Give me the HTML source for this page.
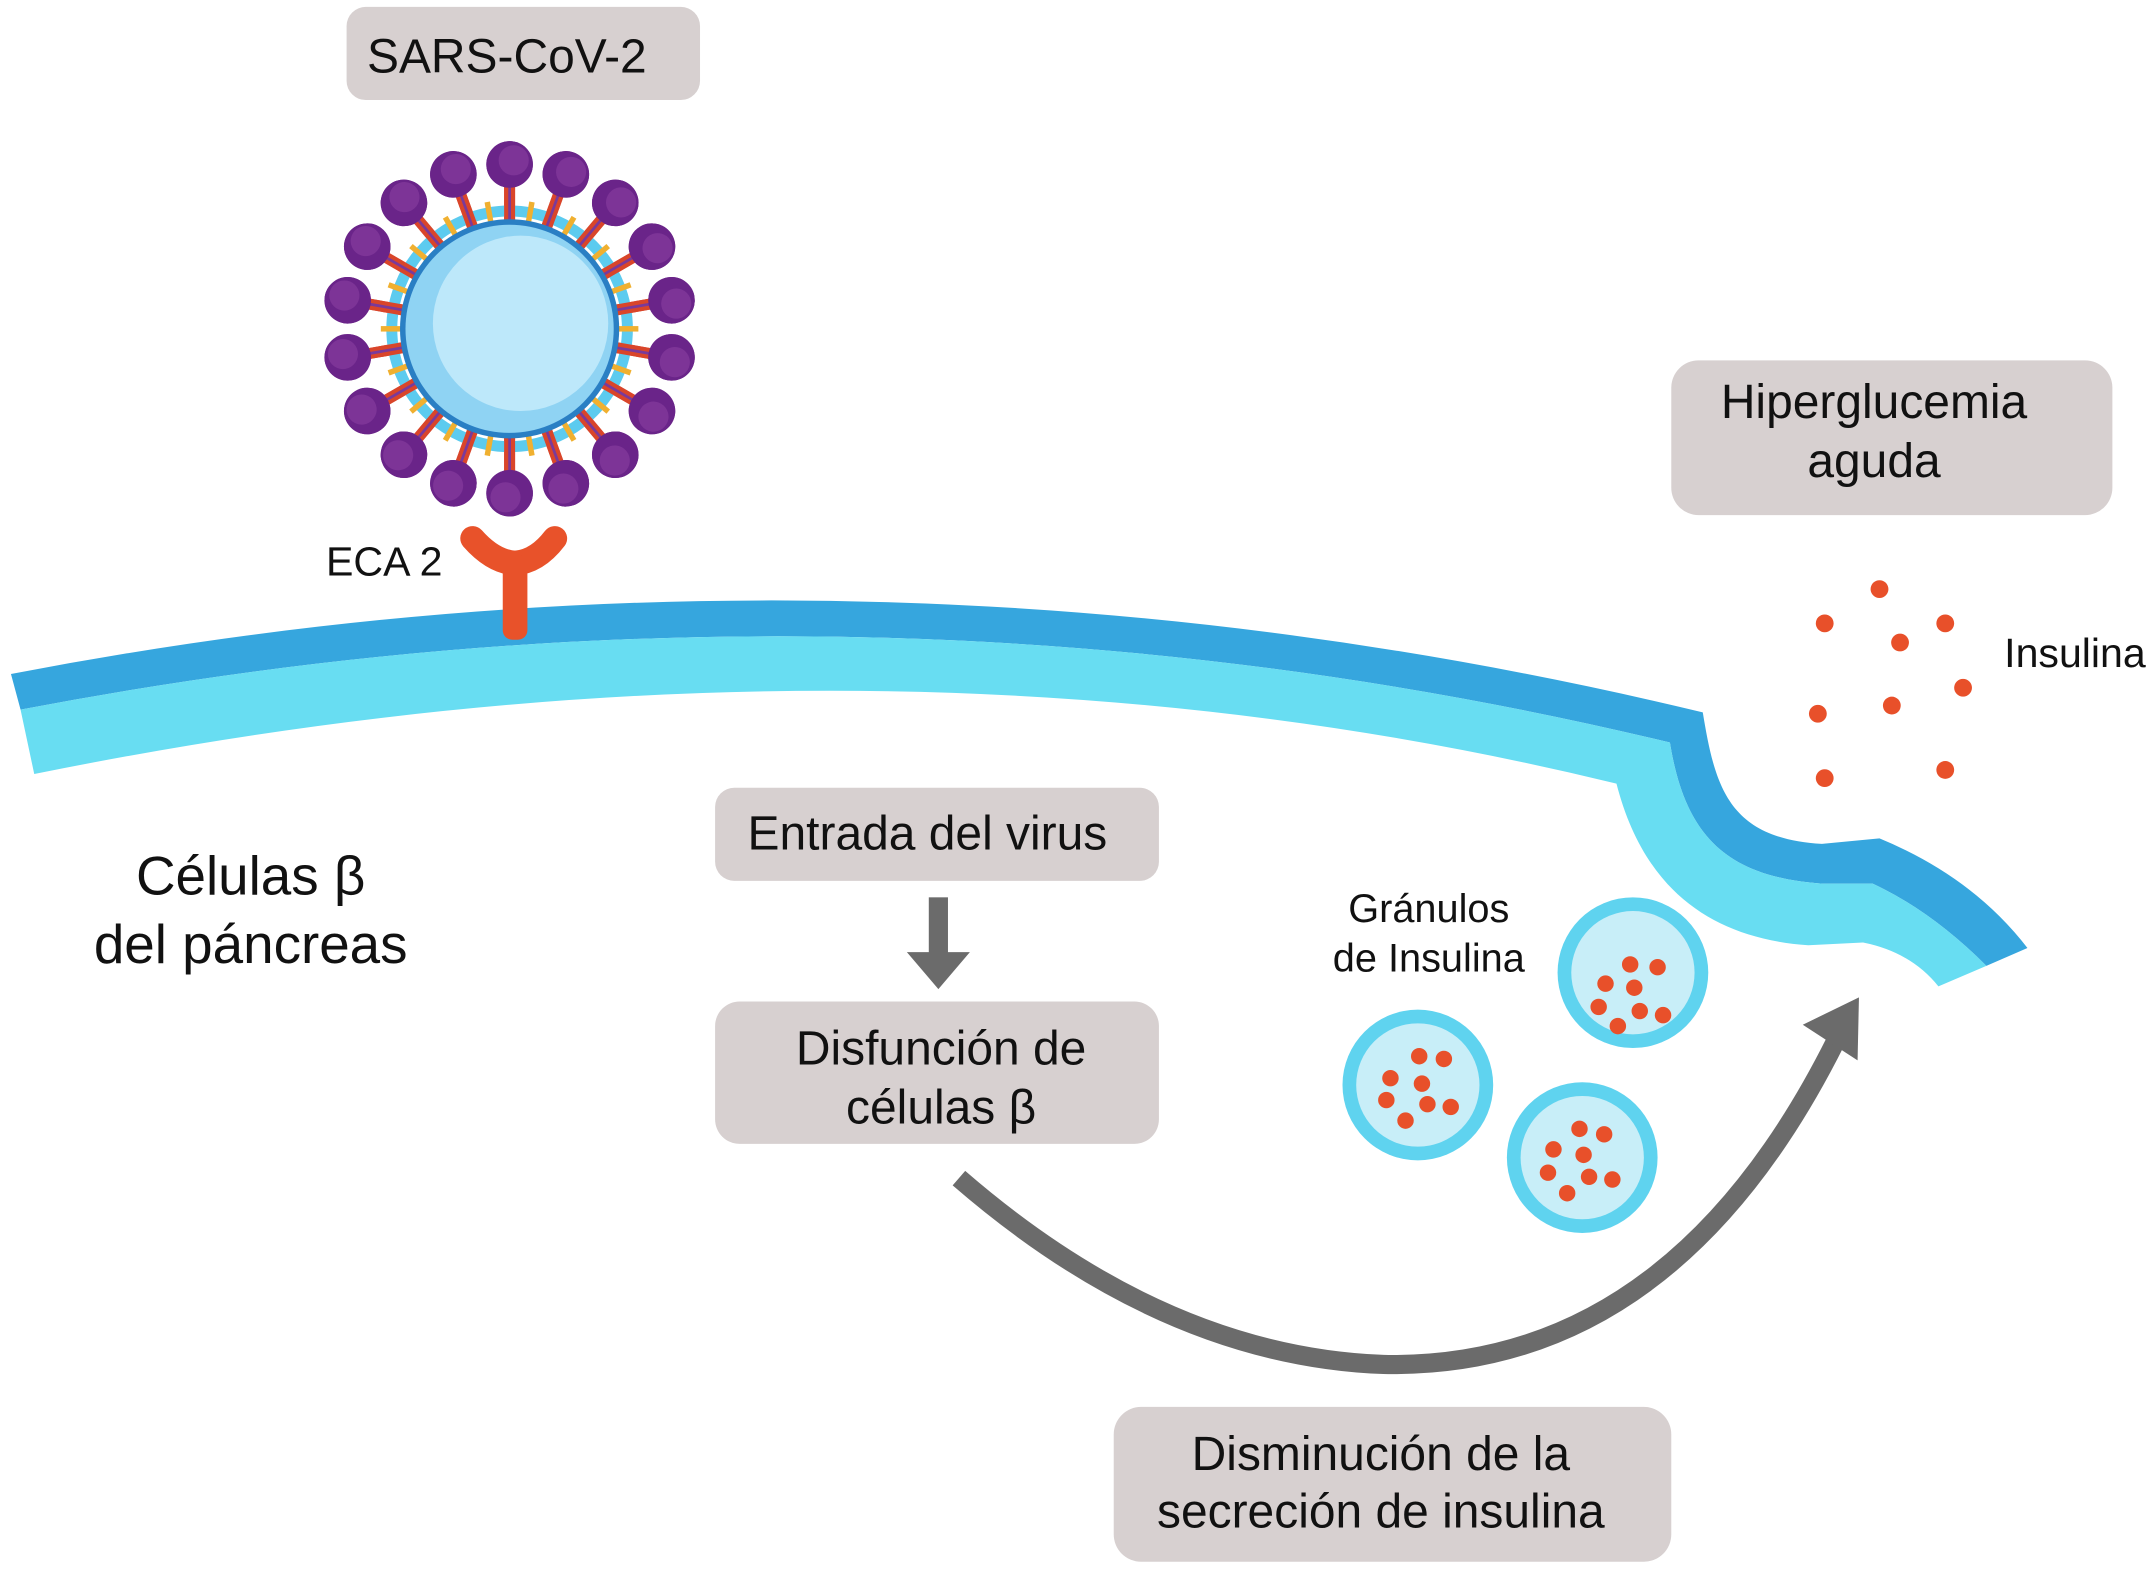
<!DOCTYPE html>
<html><head><meta charset="utf-8"><style>
html,body{margin:0;padding:0;background:#fff}
svg{display:block}
text{font-family:"Liberation Sans",sans-serif;fill:#111}
</style></head><body>
<svg width="2148" height="1570" viewBox="0 0 1568 1146" xmlns="http://www.w3.org/2000/svg">
<defs>
<g id="sp"><rect x="368" y="132" width="8" height="40" fill="#d9452a"/><rect x="371" y="132" width="2" height="40" fill="#7a3a9a"/><circle cx="372" cy="120" r="17" fill="#6a2489"/><circle cx="375" cy="117" r="11" fill="#7d3497"/></g>
<g id="ys"><rect x="370" y="146" width="4" height="18" fill="#f0b030"/></g>
</defs>
<!-- membrane -->
<path d="M8,492 Q630,372 1243,520 C1252,575 1262,612 1330,616 L1372,612 Q1440,640 1480,692 L1450,705 Q1410,665 1367,645 L1330,645 C1260,640 1230,610 1219,542 Q630,400 15,518 Z" fill="#36a6de"/>
<path d="M15,518 Q630,400 1219,542 C1230,610 1260,640 1330,645 L1367,645 Q1410,665 1450,705 L1415,720 Q1395,695 1360,688 L1320,690 C1250,685 1200,650 1180,572 Q640,440 25,565 Z" fill="#68ddf2"/>
<!-- ECA2 -->
<path d="M345,393 Q360,410 376,411 Q392,410 405,393" stroke="#e8522a" stroke-width="18" fill="none" stroke-linecap="round"/>
<rect x="367" y="405" width="18" height="62" rx="7" fill="#e8522a"/>
<text x="238" y="420" font-size="30">ECA 2</text>
<!-- virus -->
<g>
<use href="#sp"/><use href="#sp" transform="rotate(20 372 240)"/><use href="#sp" transform="rotate(40 372 240)"/><use href="#sp" transform="rotate(60 372 240)"/><use href="#sp" transform="rotate(80 372 240)"/><use href="#sp" transform="rotate(100 372 240)"/><use href="#sp" transform="rotate(120 372 240)"/><use href="#sp" transform="rotate(140 372 240)"/><use href="#sp" transform="rotate(160 372 240)"/><use href="#sp" transform="rotate(180 372 240)"/><use href="#sp" transform="rotate(200 372 240)"/><use href="#sp" transform="rotate(220 372 240)"/><use href="#sp" transform="rotate(240 372 240)"/><use href="#sp" transform="rotate(260 372 240)"/><use href="#sp" transform="rotate(280 372 240)"/><use href="#sp" transform="rotate(300 372 240)"/><use href="#sp" transform="rotate(320 372 240)"/><use href="#sp" transform="rotate(340 372 240)"/>
</g>
<circle cx="372" cy="240" r="86" fill="none" stroke="#5ccbef" stroke-width="8"/>
<g>
<use href="#sp"/><use href="#sp" transform="rotate(20 372 240)"/><use href="#sp" transform="rotate(40 372 240)"/><use href="#sp" transform="rotate(60 372 240)"/><use href="#sp" transform="rotate(80 372 240)"/><use href="#sp" transform="rotate(100 372 240)"/><use href="#sp" transform="rotate(120 372 240)"/><use href="#sp" transform="rotate(140 372 240)"/><use href="#sp" transform="rotate(160 372 240)"/><use href="#sp" transform="rotate(180 372 240)"/><use href="#sp" transform="rotate(200 372 240)"/><use href="#sp" transform="rotate(220 372 240)"/><use href="#sp" transform="rotate(240 372 240)"/><use href="#sp" transform="rotate(260 372 240)"/><use href="#sp" transform="rotate(280 372 240)"/><use href="#sp" transform="rotate(300 372 240)"/><use href="#sp" transform="rotate(320 372 240)"/><use href="#sp" transform="rotate(340 372 240)"/>
<use href="#ys" transform="rotate(10 372 240)"/><use href="#ys" transform="rotate(30 372 240)"/><use href="#ys" transform="rotate(50 372 240)"/><use href="#ys" transform="rotate(70 372 240)"/><use href="#ys" transform="rotate(90 372 240)"/><use href="#ys" transform="rotate(110 372 240)"/><use href="#ys" transform="rotate(130 372 240)"/><use href="#ys" transform="rotate(150 372 240)"/><use href="#ys" transform="rotate(170 372 240)"/><use href="#ys" transform="rotate(190 372 240)"/><use href="#ys" transform="rotate(210 372 240)"/><use href="#ys" transform="rotate(230 372 240)"/><use href="#ys" transform="rotate(250 372 240)"/><use href="#ys" transform="rotate(270 372 240)"/><use href="#ys" transform="rotate(290 372 240)"/><use href="#ys" transform="rotate(310 372 240)"/><use href="#ys" transform="rotate(330 372 240)"/><use href="#ys" transform="rotate(350 372 240)"/>
</g>
<circle cx="372" cy="240" r="80" fill="#2a7fc4"/>
<circle cx="372" cy="240" r="76" fill="#8fd3f3"/>
<circle cx="380" cy="236" r="64" fill="#bde8fa"/>
<!-- boxes -->
<g fill="#d7d0d0">
<rect x="253" y="5" width="258" height="68" rx="14"/>
<rect x="1220" y="263" width="322" height="113" rx="20"/>
<rect x="522" y="575" width="324" height="68" rx="14"/>
<rect x="522" y="731" width="324" height="104" rx="18"/>
<rect x="813" y="1027" width="407" height="113" rx="20"/>
</g>
<text x="370" y="53" font-size="35" text-anchor="middle">SARS-CoV-2</text>
<text x="1368" y="305" font-size="35" text-anchor="middle">Hiperglucemia</text>
<text x="1368" y="348" font-size="35" text-anchor="middle">aguda</text>
<text x="677" y="620" font-size="35" text-anchor="middle">Entrada del virus</text>
<text x="687" y="777" font-size="35" text-anchor="middle">Disfunción de</text>
<text x="687" y="820" font-size="35" text-anchor="middle">células β</text>
<text x="1008" y="1073" font-size="35" text-anchor="middle">Disminución de la</text>
<text x="1008" y="1115" font-size="35" text-anchor="middle">secreción de insulina</text>
<text x="183" y="653" font-size="40" text-anchor="middle">Células β</text>
<text x="183" y="703" font-size="40" text-anchor="middle">del páncreas</text>
<text x="1043" y="673" font-size="29" text-anchor="middle">Gránulos</text>
<text x="1043" y="709" font-size="29" text-anchor="middle">de Insulina</text>
<text x="1463" y="487" font-size="30">Insulina</text>
<!-- arrows -->
<rect x="678" y="655" width="14" height="42" fill="#6b6b6b"/>
<polygon points="662,695 708,695 685,722" fill="#6b6b6b"/>
<path d="M700,860 Q850,990 1010,996 Q1220,1000 1340,760" stroke="#6b6b6b" stroke-width="14" fill="none"/>
<polygon points="1357,728 1356,774 1316,748" fill="#6b6b6b"/>
<!-- granules -->
<g>
<circle cx="1192" cy="710" r="55" fill="#5fd3ef"/><circle cx="1192" cy="710" r="45" fill="#c8eef8"/>
<circle cx="1035" cy="792" r="55" fill="#5fd3ef"/><circle cx="1035" cy="792" r="45" fill="#c8eef8"/>
<circle cx="1155" cy="845" r="55" fill="#5fd3ef"/><circle cx="1155" cy="845" r="45" fill="#c8eef8"/>
</g>
<g fill="#e8502a">
<circle cx="1190" cy="704" r="6"/><circle cx="1210" cy="706" r="6"/><circle cx="1172" cy="718" r="6"/><circle cx="1193" cy="721" r="6"/><circle cx="1167" cy="735" r="6"/><circle cx="1197" cy="738" r="6"/><circle cx="1214" cy="741" r="6"/><circle cx="1181" cy="749" r="6"/>
<circle cx="1036" cy="771" r="6"/><circle cx="1054" cy="773" r="6"/><circle cx="1015" cy="787" r="6"/><circle cx="1038" cy="791" r="6"/><circle cx="1012" cy="803" r="6"/><circle cx="1042" cy="806" r="6"/><circle cx="1059" cy="808" r="6"/><circle cx="1026" cy="818" r="6"/>
<circle cx="1153" cy="824" r="6"/><circle cx="1171" cy="828" r="6"/><circle cx="1134" cy="839" r="6"/><circle cx="1156" cy="843" r="6"/><circle cx="1130" cy="856" r="6"/><circle cx="1160" cy="859" r="6"/><circle cx="1177" cy="861" r="6"/><circle cx="1144" cy="871" r="6"/>
<circle cx="1372" cy="430" r="6.5"/><circle cx="1332" cy="455" r="6.5"/><circle cx="1387" cy="469" r="6.5"/><circle cx="1420" cy="455" r="6.5"/><circle cx="1327" cy="521" r="6.5"/><circle cx="1381" cy="515" r="6.5"/><circle cx="1433" cy="502" r="6.5"/><circle cx="1332" cy="568" r="6.5"/><circle cx="1420" cy="562" r="6.5"/>
</g>
</svg>
</body></html>
